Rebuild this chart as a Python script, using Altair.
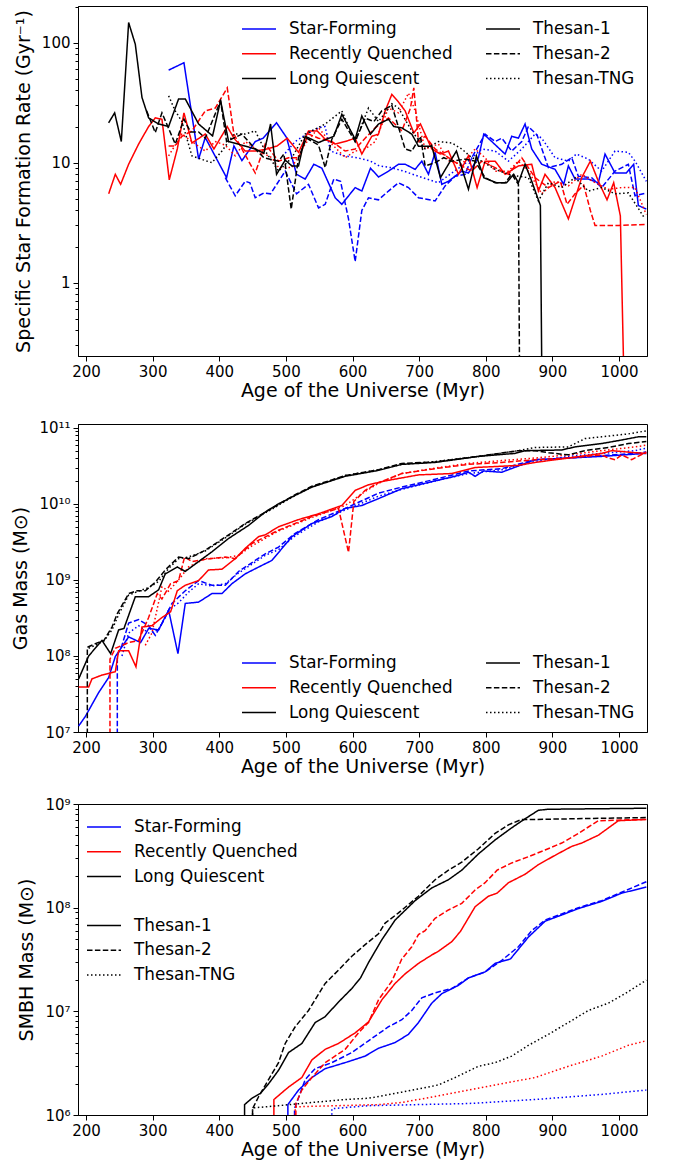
import altair as alt
import pandas as pd

GROUPS = ["Star-Forming", "Recently Quenched", "Long Quiescent"]
SIMS = ["Thesan-1", "Thesan-2", "Thesan-TNG"]
COLORS = ["#0000ff", "#ff0000", "#000000"]
DASHES = [[1, 0], [5.5, 2.4], [1.5, 2.5]]
FONT = "DejaVu Sans"
XTICKS = [200, 300, 400, 500, 600, 700, 800, 900, 1000]

# ---------------- Panel 1: specific star formation rate (Gyr^-1) ----------------
SSFR_SF_T1 = [(324,59),(347,68),(369,10.7),(379,16.2),(411,7.5),(422,13.8),(434,10.4),(454,15),(466,16),(486,21.5),(501,16.2),(516,8),(529,7.3),(542,9.7),(554,9),(574,5.1),(584,4.5),(604,6.2),(614,5.8),(627,9),(639,7.6),(654,8.5),(669,9.7),(679,9.7),(694,8.8),(704,10.3),(714,8),(724,12.2),(734,6.6),(744,7),(764,8.5),(774,8.2),(789,11),(797,17.3),(809,15),(829,11.8),(839,16.6),(849,16),(859,21),(869,13),(884,9.7),(904,8.8),(917,6.6),(924,9.4),(934,7.3),(954,7.3),(969,6.8),(979,11.8),(994,8.2),(1011,8.2),(1022,9.7),(1029,4.4),(1041,4.1)]
SSFR_SF_T2 = [(409,7.5),(424,5.3),(439,7),(446,6.8),(454,5.1),(467,5.6),(477,5.5),(499,8.5),(516,5.5),(534,6.6),(549,4.2),(559,4.5),(572,7.3),(582,7),(594,3.4),(604,1.5),(614,4),(624,5.1),(639,4.9),(654,5.8),(669,6.8),(684,6.2),(699,5.1),(724,4.8),(739,6.4),(754,7.7),(769,8),(779,11),(799,17.3),(814,15),(824,16),(839,12.5),(854,15),(864,20),(877,17),(894,9.1),(914,9.7),(929,11),(939,7.7),(959,7.5),(974,6.2),(994,8.5),(1014,9.7),(1024,5.3),(1041,5.6)]
SSFR_SF_TNG = [(499,12),(514,15),(529,17),(549,19.5),(559,20),(567,12.5),(587,11.4),(607,11),(627,10.3),(640,9.4),(657,9.1),(677,8.5),(699,7.7),(729,6.8),(749,8.2),(774,10.3),(794,13),(814,12.5),(834,10.3),(854,13),(874,17.3),(884,16),(904,11),(924,10.3),(936,11.8),(954,10.7),(974,8.5),(994,12.5),(1014,12.2),(1024,10.3),(1041,7)]
SSFR_RQ_T1 = [(234,5.5),(244,8),(252,6.6),(264,9.7),(279,14.3),(294,20),(304,23.6),(314,23),(325,7.2),(337,13),(347,26),(359,14.6),(379,17.3),(392,13),(412,20),(422,16),(439,12.5),(454,12.5),(472,13),(487,13.8),(502,16),(519,12.2),(534,18.4),(547,18.4),(559,15.7),(574,14.3),(589,15),(604,16),(614,11.8),(629,16.6),(639,17.3),(649,27),(659,37),(669,32),(679,27),(692,17.7),(702,21),(719,13),(732,11.8),(744,12.5),(759,8),(774,11.4),(787,6.2),(799,10.3),(814,10.3),(829,8),(849,9.4),(869,9.7),(879,5.8),(889,8),(904,6.2),(924,3.4),(944,7.5),(957,10.3),(969,7),(982,4.9),(992,6.8),(1002,3.6),(1012,0.01)]
SSFR_RQ_T2 = [(324,13.8),(334,13.8),(344,16.6),(359,18.4),(379,27),(394,28.5),(412,42),(422,17.3),(434,13),(454,8.2),(469,14.3),(489,10.3),(504,11),(519,11),(534,17.3),(549,16),(569,15),(589,12.5),(604,13),(619,16),(634,19.5),(654,23.6),(674,18.4),(687,28.5),(692,42),(699,15),(709,16.6),(724,13),(744,11),(759,9.7),(779,8.5),(794,10.3),(814,9.1),(834,8),(854,11),(874,7.5),(894,6.2),(912,7),(922,4.5),(934,5.5),(947,6.5),(957,4),(964,3.0),(1000,3.0),(1041,3.05)]
SSFR_RQ_TNG = [(324,11.4),(344,17.3),(359,15),(379,12.5),(394,15),(409,14),(424,11.4),(439,15),(459,12.5),(479,11),(489,9.1),(509,9.1),(529,14.3),(549,19.5),(569,14.3),(589,11),(604,12.5),(619,13),(634,15),(654,28.5),(669,26),(684,38),(694,27),(709,13),(729,14.3),(744,10.3),(764,9.7),(784,13),(799,11),(814,8.5),(834,8.5),(849,10.3),(864,8.5),(884,5.5),(904,7),(924,6.4),(944,8),(964,6.8),(984,6),(1004,6.2),(1024,6.2),(1041,3.7)]
SSFR_LQ_T1 = [(234,21.5),(243,26),(253,15),(264,147),(274,97),(284,35),(294,23.6),(309,21),(324,20),(339,34),(349,34),(369,21),(390,16.7),(402,33),(414,15),(434,14),(454,13),(467,12),(477,21),(486,8),(499,10.5),(509,9.4),(519,9.4),(529,16.6),(549,14.7),(572,16.6),(584,25.3),(604,15.7),(614,24.5),(627,17.3),(639,21),(654,23),(662,20),(674,19.5),(689,17.3),(699,13.7),(719,13.7),(732,7.5),(744,9.7),(756,12.5),(774,6),(786,11.4),(797,7.5),(816,6.8),(831,6.8),(842,8),(849,6.8),(859,9.7),(869,7),(882,4.4),(886,0.01)]
SSFR_LQ_T2 = [(291,27),(304,17.8),(314,26),(334,14.3),(347,23),(357,18),(369,18),(379,16),(402,32.7),(411,15),(434,17.3),(454,13),(467,11),(489,10.3),(497,11.8),(508,4.1),(519,11),(531,16),(549,14),(559,9.1),(569,15.7),(584,23),(604,15),(619,23.5),(632,22),(644,27),(659,30),(679,13),(689,12.5),(702,16.6),(709,9.4),(724,10),(737,11),(749,10.3),(769,10.7),(784,10.3),(799,7.5),(814,6.8),(829,6.8),(839,8),(849,6.6),(852,0.01)]
SSFR_LQ_TNG = [(324,36),(334,27),(344,22),(359,11.4),(379,10.4),(389,10),(404,12.5),(422,17.3),(439,17.3),(454,18.4),(469,12.5),(489,8.5),(509,11),(529,17.3),(559,21),(584,27),(604,15),(624,28.5),(639,22),(659,31),(669,28.5),(689,18.4),(709,13),(729,15),(749,14.6),(764,13),(779,11),(794,10.3),(814,8.8),(834,8),(849,7.7),(864,7.5),(879,4.8),(894,6.8),(914,6.2),(934,7.5),(954,5.8),(974,6.2),(994,5.5),(1014,5.6),(1039,3.4)]

# ---------------- Panel 2: gas mass (Msun) ----------------
GAS_SF_T1 = [(189,1.2e7),(199,1.6e7),(209,2.3e7),(219,3.3e7),(234,5.2e7),(244,9.8e7),(264,1.78e8),(282,1.5e8),(294,2.3e8),(309,2.2e8),(324,4.0e8),(338,1.07e8),(349,4.9e8),(369,5.1e8),(389,6.6e8),(404,6.6e8),(419,8.9e8),(439,1.2e9),(464,1.55e9),(479,1.8e9),(509,3.7e9),(539,5.5e9),(569,6.8e9),(589,8.7e9),(614,9.5e9),(639,1.17e10),(674,1.58e10),(724,2.0e10),(754,2.3e10),(774,2.6e10),(784,2.3e10),(797,2.7e10),(824,2.6e10),(874,3.8e10),(924,4.0e10),(974,4.2e10),(1024,4.5e10),(1041,4.6e10)]
GAS_SF_T2 = [(247,1e5),(247,1.02e8),(254,1.38e8),(264,2.7e8),(279,3.0e8),(294,2.5e8),(304,1.86e8),(319,3.2e8),(329,4.9e8),(349,7.2e8),(369,9.8e8),(389,8.5e8),(409,8.5e8),(429,1.29e9),(469,2.2e9),(489,2.7e9),(514,4.1e9),(549,6.2e9),(589,8.7e9),(639,1.38e10),(674,1.66e10),(724,2.1e10),(774,2.7e10),(824,2.9e10),(874,3.8e10),(924,4.0e10),(974,4.3e10),(1024,4.6e10),(1041,4.8e10)]
GAS_SF_TNG = [(254,1.0e8),(264,2.0e8),(279,2.5e8),(294,2.0e8),(309,2.2e8),(324,4.0e8),(339,5.0e8),(354,6.9e8),(369,8.9e8),(389,8.3e8),(409,8.9e8),(429,1.23e9),(469,2.1e9),(489,2.5e9),(514,3.8e9),(549,5.8e9),(589,8.3e9),(639,1.26e10),(674,1.55e10),(724,2.0e10),(774,2.5e10),(824,2.8e10),(874,3.6e10),(924,4.2e10),(974,4.6e10),(1024,5.0e10),(1041,5.4e10)]
GAS_RQ_T1 = [(189,3.9e7),(204,3.9e7),(209,5.0e7),(224,5.6e7),(244,6.2e7),(249,1.17e8),(264,1.17e8),(275,7.2e7),(284,2.4e8),(299,2.5e8),(314,3.2e8),(327,3.8e8),(337,7.2e8),(349,8.5e8),(369,9.8e8),(384,1.35e9),(404,1.38e9),(424,1.9e9),(439,2.6e9),(459,3.7e9),(469,3.9e9),(489,5.0e9),(519,6.2e9),(549,7.4e9),(584,9.5e9),(604,1.5e10),(624,1.78e10),(649,2.0e10),(699,2.4e10),(749,2.5e10),(784,3.0e10),(849,3.2e10),(874,3.5e10),(924,4.0e10),(974,4.6e10),(989,5.0e10),(1024,4.7e10),(1041,4.6e10)]
GAS_RQ_T2 = [(236,1e5),(236,9.1e7),(244,1.26e8),(264,1.5e8),(279,1.6e8),(294,3.2e8),(307,6.6e8),(314,5.6e8),(327,8.9e8),(339,9.8e8),(348,2.0e9),(359,1.74e9),(379,1.86e9),(409,2.0e9),(424,1.9e9),(449,3.0e9),(489,4.5e9),(539,6.8e9),(579,8.7e9),(594,2.3e9),(602,1.07e10),(619,1.5e10),(639,1.9e10),(674,2.5e10),(724,2.9e10),(774,3.3e10),(824,3.5e10),(874,3.8e10),(924,4.0e10),(974,4.4e10),(984,4.0e10),(994,3.8e10),(1004,4.4e10),(1019,3.8e10),(1041,4.8e10)]
GAS_RQ_TNG = [(289,1.38e8),(299,2.0e8),(314,8.1e8),(324,7.1e8),(339,1.0e9),(354,1.48e9),(379,1.9e9),(409,1.95e9),(429,2.1e9),(449,2.8e9),(489,4.4e9),(539,6.6e9),(589,9.5e9),(619,1.45e10),(639,1.86e10),(674,2.5e10),(724,2.95e10),(774,3.4e10),(824,3.7e10),(874,4.0e10),(924,4.4e10),(974,5.0e10),(1024,5.6e10),(1041,5.9e10)]
GAS_LQ_T1 = [(189,5.0e7),(204,1.0e8),(224,1.6e8),(237,1.07e8),(249,2.2e8),(257,2.3e8),(274,6.0e8),(294,6.0e8),(309,7.4e8),(319,1.2e9),(337,1.48e9),(349,1.29e9),(369,1.74e9),(389,2.34e9),(414,3.5e9),(444,5.2e9),(469,7.8e9),(489,1.0e10),(514,1.29e10),(539,1.66e10),(589,2.3e10),(639,2.75e10),(674,3.3e10),(724,3.5e10),(789,4.2e10),(844,4.6e10),(859,5.0e10),(914,5.1e10),(934,5.6e10),(974,6.2e10),(1004,6.9e10),(1029,7.6e10),(1041,7.6e10)]
GAS_LQ_T2 = [(202,1e5),(202,1.3e8),(214,1.45e8),(227,1.6e8),(239,2.4e8),(247,3.6e8),(264,6.6e8),(277,7.2e8),(289,7.2e8),(304,9.3e8),(319,1.35e9),(339,2.0e9),(354,1.9e9),(379,2.45e9),(414,3.9e9),(439,5.5e9),(479,8.7e9),(514,1.32e10),(539,1.7e10),(589,2.35e10),(639,2.8e10),(674,3.4e10),(724,3.55e10),(789,4.2e10),(849,5.0e10),(874,5.0e10),(894,4.7e10),(924,4.4e10),(949,5.0e10),(984,5.5e10),(1014,6.2e10),(1041,6.6e10)]
GAS_LQ_TNG = [(204,1.26e8),(214,1.38e8),(227,1.58e8),(239,2.2e8),(249,3.5e8),(264,6.3e8),(279,7.1e8),(294,7.9e8),(309,9.5e8),(324,1.41e9),(339,1.9e9),(354,2.0e9),(379,2.4e9),(414,3.8e9),(439,5.4e9),(479,8.5e9),(514,1.29e10),(539,1.66e10),(589,2.35e10),(639,2.8e10),(674,3.3e10),(724,3.6e10),(789,4.2e10),(849,5.0e10),(874,5.5e10),(924,5.6e10),(949,7.2e10),(974,7.6e10),(1014,8.3e10),(1041,9.1e10)]

# ---------------- Panel 3: SMBH mass (Msun) ----------------
BH_SF_T1 = [(503,1e5),(503,1.26e6),(519,1.74e6),(539,2.3e6),(559,2.8e6),(589,3.2e6),(619,3.7e6),(639,4.4e6),(664,5.0e6),(684,6.0e6),(699,7.8e6),(719,1.2e7),(734,1.48e7),(759,1.78e7),(774,2.1e7),(799,2.4e7),(814,2.9e7),(837,3.2e7),(864,5.2e7),(889,7.4e7),(914,8.5e7),(939,9.8e7),(974,1.15e8),(1004,1.38e8),(1041,1.58e8)]
BH_SF_T2 = [(513,1e5),(513,1.15e6),(529,2.2e6),(544,2.8e6),(569,3.2e6),(599,4.0e6),(624,5.2e6),(654,7.1e6),(674,8.3e6),(689,1.02e7),(704,1.35e7),(724,1.51e7),(749,1.66e7),(774,2.1e7),(799,2.4e7),(824,3.1e7),(849,4.2e7),(869,6.0e7),(889,7.6e7),(914,8.7e7),(939,1.0e8),(974,1.17e8),(1004,1.41e8),(1041,1.78e8)]
BH_SF_TNG = [(569,1e5),(569,1.15e6),(624,1.23e6),(774,1.29e6),(874,1.41e6),(974,1.58e6),(1041,1.74e6)]
BH_RQ_T1 = [(482,1e5),(482,1.41e6),(504,1.86e6),(524,2.3e6),(539,3.4e6),(559,4.3e6),(579,4.9e6),(604,6.2e6),(624,7.9e6),(644,1.29e7),(664,1.86e7),(679,2.3e7),(699,2.9e7),(719,3.5e7),(729,3.8e7),(749,4.7e7),(762,5.9e7),(784,1.02e8),(804,1.29e8),(817,1.38e8),(834,1.74e8),(859,2.1e8),(879,2.6e8),(904,3.2e8),(929,3.9e8),(944,4.2e8),(969,5.0e8),(999,6.9e8),(1041,7.1e8)]
BH_RQ_T2 = [(515,1e5),(515,1.29e6),(524,1.74e6),(539,2.3e6),(559,3.2e6),(589,4.3e6),(609,6.2e6),(624,7.8e6),(639,1.29e7),(659,1.95e7),(674,3.2e7),(689,4.2e7),(699,5.5e7),(709,6.0e7),(724,7.9e7),(744,9.5e7),(764,1.1e8),(784,1.48e8),(799,1.74e8),(817,2.3e8),(839,2.7e8),(864,3.1e8),(889,3.6e8),(914,4.2e8),(939,5.2e8),(954,6.0e8),(969,6.9e8),(1041,7.1e8)]
BH_RQ_TNG = [(514,1e5),(514,1.2e6),(639,1.26e6),(674,1.32e6),(724,1.51e6),(774,1.74e6),(824,2.0e6),(874,2.3e6),(924,2.95e6),(974,3.7e6),(1014,4.7e6),(1041,5.2e6)]
BH_LQ_T1 = [(438,1e5),(438,1.26e6),(449,1.45e6),(462,1.62e6),(474,2.0e6),(489,2.7e6),(504,4.0e6),(524,4.9e6),(544,7.8e6),(559,8.9e6),(579,1.23e7),(599,1.66e7),(612,2.1e7),(624,2.95e7),(644,4.9e7),(664,7.6e7),(694,1.17e8),(719,1.55e8),(744,1.86e8),(764,2.3e8),(789,3.3e8),(814,4.5e8),(839,5.9e8),(859,7.2e8),(879,8.7e8),(894,8.9e8),(1041,9.1e8)]
BH_LQ_T2 = [(450,1e5),(450,1.15e6),(459,1.5e6),(474,2.2e6),(489,3.2e6),(499,4.9e6),(514,7.1e6),(534,1.02e7),(559,1.86e7),(579,2.5e7),(599,3.4e7),(619,4.4e7),(639,5.6e7),(649,7.1e7),(669,8.9e7),(699,1.29e8),(724,1.86e8),(744,2.3e8),(764,2.75e8),(789,3.7e8),(814,5.2e8),(834,6.3e8),(854,7.1e8),(874,7.1e8),(1041,7.4e8)]
BH_LQ_TNG = [(450,1e5),(450,1.17e6),(489,1.23e6),(539,1.32e6),(589,1.41e6),(624,1.45e6),(674,1.66e6),(729,1.95e6),(754,2.3e6),(789,2.95e6),(814,3.2e6),(839,3.7e6),(864,4.7e6),(894,6.0e6),(924,7.8e6),(954,1.02e7),(984,1.2e7),(1009,1.48e7),(1041,2.0e7)]

SSFR = {("Star-Forming","Thesan-1"):SSFR_SF_T1, ("Star-Forming","Thesan-2"):SSFR_SF_T2, ("Star-Forming","Thesan-TNG"):SSFR_SF_TNG,
        ("Recently Quenched","Thesan-1"):SSFR_RQ_T1, ("Recently Quenched","Thesan-2"):SSFR_RQ_T2, ("Recently Quenched","Thesan-TNG"):SSFR_RQ_TNG,
        ("Long Quiescent","Thesan-1"):SSFR_LQ_T1, ("Long Quiescent","Thesan-2"):SSFR_LQ_T2, ("Long Quiescent","Thesan-TNG"):SSFR_LQ_TNG}
GAS = {("Star-Forming","Thesan-1"):GAS_SF_T1, ("Star-Forming","Thesan-2"):GAS_SF_T2, ("Star-Forming","Thesan-TNG"):GAS_SF_TNG,
       ("Recently Quenched","Thesan-1"):GAS_RQ_T1, ("Recently Quenched","Thesan-2"):GAS_RQ_T2, ("Recently Quenched","Thesan-TNG"):GAS_RQ_TNG,
       ("Long Quiescent","Thesan-1"):GAS_LQ_T1, ("Long Quiescent","Thesan-2"):GAS_LQ_T2, ("Long Quiescent","Thesan-TNG"):GAS_LQ_TNG}
BH = {("Star-Forming","Thesan-1"):BH_SF_T1, ("Star-Forming","Thesan-2"):BH_SF_T2, ("Star-Forming","Thesan-TNG"):BH_SF_TNG,
      ("Recently Quenched","Thesan-1"):BH_RQ_T1, ("Recently Quenched","Thesan-2"):BH_RQ_T2, ("Recently Quenched","Thesan-TNG"):BH_RQ_TNG,
      ("Long Quiescent","Thesan-1"):BH_LQ_T1, ("Long Quiescent","Thesan-2"):BH_LQ_T2, ("Long Quiescent","Thesan-TNG"):BH_LQ_TNG}

SSFR_TICKS = [0.3,0.4,0.5,0.6,0.7,0.8,0.9,1,2,3,4,5,6,7,8,9,10,20,30,40,50,60,70,80,90,100,200]
SSFR_MAJOR = [1, 10, 100]
GAS_TICKS = [1e7,2e7,3e7,4e7,5e7,6e7,7e7,8e7,9e7,1e8,2e8,3e8,4e8,5e8,6e8,7e8,8e8,9e8,1e9,2e9,3e9,4e9,5e9,6e9,7e9,8e9,9e9,1e10,2e10,3e10,4e10,5e10,6e10,7e10,8e10,9e10,1e11]
GAS_MAJOR = [1e7, 1e8, 1e9, 1e10, 1e11]
GAS_LABELS = ["10⁷", "10⁸", "10⁹", "10¹⁰", "10¹¹"]
BH_TICKS = [1e6,2e6,3e6,4e6,5e6,6e6,7e6,8e6,9e6,1e7,2e7,3e7,4e7,5e7,6e7,7e7,8e7,9e7,1e8,2e8,3e8,4e8,5e8,6e8,7e8,8e8,9e8,1e9]
BH_MAJOR = [1e6, 1e7, 1e8, 1e9]
BH_LABELS = ["10⁶", "10⁷", "10⁸", "10⁹"]


def frame(series):
    rows = []
    for (g, s), pts in series.items():
        for x, v in pts:
            rows.append({"age": x, "val": v, "group": g, "sim": s})
    return pd.DataFrame(rows)


def major_test(majors):
    return " || ".join(f"abs(datum.value - {m!r}) < {m*1e-6!r}" for m in majors)


def label_expr(majors, labels):
    expr = "''"
    for m, l in zip(majors, labels):
        expr = f"abs(datum.value - {m!r}) < {m*1e-6!r} ? '{l}' : ({expr})"
    return expr


def panel(series, ydomain, yticks, majors, labels, ytitle, height, leg):
    df = frame(series)
    yaxis = alt.Axis(
        values=yticks, title=ytitle, labelExpr=label_expr(majors, labels),
        tickSize={"condition": {"test": major_test(majors), "value": 5}, "value": 3},
        labelFontSize=15, titleFontSize=19, labelPadding=3, titlePadding=8,
        grid=False, domainColor="black", tickColor="black", labelFont=FONT, titleFont=FONT,
        titleFontWeight="normal", labelColor="black", titleColor="black",
    )
    xaxis = alt.Axis(
        values=XTICKS, format="d", title="Age of the Universe (Myr)", labelFontSize=15, titleFontSize=19,
        tickSize=5, labelPadding=3, titlePadding=2, grid=False, domainColor="black",
        tickColor="black", labelFont=FONT, titleFont=FONT, titleFontWeight="normal",
        labelColor="black", titleColor="black", labelFlush=False,
    )
    # long horizontal line symbol: 34 px wide with a small nominal size
    common = dict(orient="none", title=None, symbolType="M-2,0L2,0", symbolStrokeWidth=1.5,
                  symbolSize=289, labelFontSize=16.8, labelFont=FONT, labelColor="black",
                  labelLimit=400, rowPadding=5.8, labelOffset=20.5, padding=0, direction="vertical")
    color_leg = alt.Legend(legendX=leg[0][0], legendY=leg[0][1], **common)
    dash_leg = alt.Legend(legendX=leg[1][0], legendY=leg[1][1], symbolStrokeColor="black", **common)
    return alt.Chart(df).mark_line(clip=True, strokeWidth=1.5).encode(
        x=alt.X("age:Q", scale=alt.Scale(domain=[188, 1042], nice=False, zero=False), axis=xaxis),
        y=alt.Y("val:Q", scale=alt.Scale(type="log", domain=ydomain, nice=False), axis=yaxis),
        color=alt.Color("group:N", scale=alt.Scale(domain=GROUPS, range=COLORS), legend=color_leg),
        strokeDash=alt.StrokeDash("sim:N", scale=alt.Scale(domain=SIMS, range=DASHES), legend=dash_leg),
        order=alt.Order("age:Q"),
    ).properties(width=569, height=height)


p1 = panel(SSFR, [0.245, 202], SSFR_TICKS, SSFR_MAJOR, ["1", "10", "100"],
           "Specific Star Formation Rate (Gyr⁻¹)", 350, [(171.5, 13.5), (415.5, 13.5)])
p2 = panel(GAS, [1e7, 1.12e11], GAS_TICKS, GAS_MAJOR, GAS_LABELS,
           "Gas Mass (M⊙)", 308, [(171.5, 229.5), (415.5, 229.5)])
p3 = panel(BH, [1e6, 1e9], BH_TICKS, BH_MAJOR, BH_LABELS,
           "SMBH Mass (M⊙)", 311, [(16.5, 13.5), (16.5, 112)])

chart = alt.vconcat(p1, p2, p3, spacing=19).resolve_scale(
    color="independent", strokeDash="independent", x="independent", y="independent"
).resolve_legend(color="independent", strokeDash="independent").configure_view(
    stroke="black", strokeWidth=1
).properties(padding={"left": 11, "top": 5, "right": 5, "bottom": 5}, background="white")

chart.save("out.html", embed_options={"renderer": "svg", "actions": False})
